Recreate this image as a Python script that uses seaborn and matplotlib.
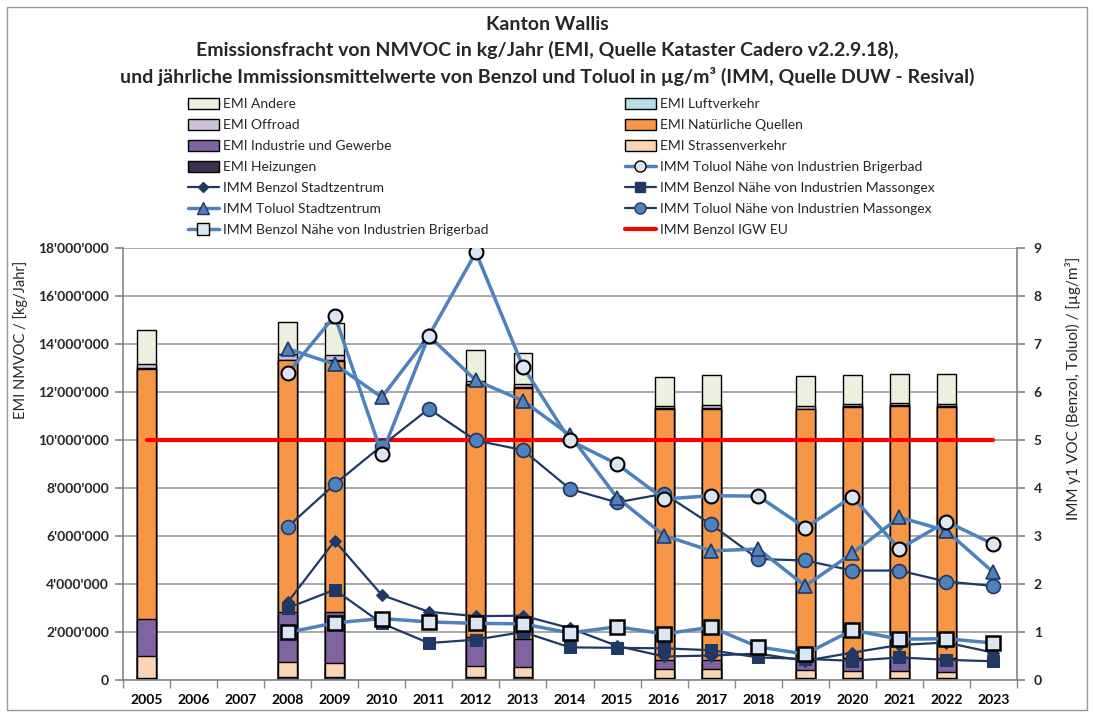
import numpy as np
import pandas as pd
import matplotlib
matplotlib.use("Agg")
import matplotlib.pyplot as plt
import seaborn as sns
from matplotlib.patches import Patch, Rectangle
from matplotlib.lines import Line2D
from matplotlib.ticker import FuncFormatter, FixedLocator

# --- data ---------------------------------------------------------------
years = list(range(2005, 2024))
bar_years = [2005, 2008, 2009, 2012, 2013, 2016, 2017, 2019, 2020, 2021, 2022]

# emission loads in kg/year, one list per source (same order as bar_years)
emi_heizungen = [100000, 110000, 110000, 110000, 110000, 100000, 100000, 100000, 100000, 100000, 100000]
emi_strassen = [880000, 650000, 610000, 460000, 430000, 360000, 360000, 320000, 280000, 260000, 250000]
emi_industrie = [1550000, 2090000, 2110000, 1230000, 1170000, 370000, 370000, 430000, 540000, 580000, 570000]
emi_natuerlich = [10430000, 10480000, 10470000, 10500000, 10460000, 10460000, 10470000, 10430000, 10460000, 10490000, 10470000]
emi_luftverkehr = [20000, 20000, 20000, 20000, 20000, 30000, 20000, 20000, 20000, 20000, 20000]
emi_offroad = [200000, 220000, 220000, 130000, 160000, 100000, 150000, 130000, 110000, 100000, 100000]
emi_andere = [1400000, 1360000, 1330000, 1290000, 1280000, 1210000, 1230000, 1250000, 1190000, 1210000, 1230000]

# immission yearly means in ug/m3, 2008..2023
imm_years = list(range(2008, 2024))
benzol_stadt = [1.62, 2.90, 1.77, 1.42, 1.33, 1.34, 1.08, 0.71, 0.49, 0.51, 0.55, 0.40, 0.57, 0.73, 0.78, 0.57]
toluol_stadt = [6.90, 6.58, 5.89, 7.17, 6.24, 5.82, 5.10, 3.80, 3.01, 2.69, 2.73, 1.96, 2.64, 3.39, 3.11, 2.24]
benzol_brig = [0.99, 1.19, 1.28, 1.21, 1.18, 1.17, 0.98, 1.11, 0.96, 1.10, 0.69, 0.54, 1.04, 0.85, 0.86, 0.77]
toluol_brig = [6.39, 7.59, 4.71, 7.17, 8.91, 6.53, 4.99, 4.50, 3.77, 3.84, 3.83, 3.17, 3.82, 2.73, 3.30, 2.83]
benzol_mass = [1.50, 1.88, 1.18, 0.77, 0.84, 1.00, 0.68, 0.67, 0.66, 0.62, 0.47, 0.44, 0.40, 0.47, 0.42, 0.39]
toluol_mass = [3.19, 4.08, 4.88, 5.65, 4.99, 4.79, 3.98, 3.70, 3.88, 3.24, 2.52, 2.49, 2.28, 2.28, 2.05, 1.96]
igw_eu = 5

# --- style --------------------------------------------------------------
sns.set_theme(style="white")
plt.rcParams['font.family'] = ['Lato', 'DejaVu Sans']

c_andere = '#EBF1DE'
c_luft = '#B7DEE8'
c_offroad = '#CCC1DA'
c_natur = '#F79646'
c_indus = '#8064A2'
c_strasse = '#FCD5B5'
c_heiz = '#3F3151'
c_light = '#4F81BD'
c_dark = '#1F3864'
c_fill = '#DCE6F2'

fig = plt.figure(figsize=(10.94, 7.15), dpi=100)
ax = fig.add_axes([123 / 1094, 35 / 715, 894 / 1094, 432 / 715])
ax2 = ax.twinx()

# stacked bars: draw cumulative totals from the top layer down
layers = [emi_heizungen, emi_strassen, emi_industrie, emi_natuerlich,
          emi_luftverkehr, emi_offroad, emi_andere]
layer_colors = [c_heiz, c_strasse, c_indus, c_natur, c_luft, c_offroad, c_andere]
cum = np.cumsum(np.array(layers), axis=0)
year_order = [str(y) for y in years]
for i in range(len(layers) - 1, -1, -1):
    df = pd.DataFrame({'year': [str(y) for y in bar_years], 'val': cum[i]})
    sns.barplot(data=df, x='year', y='val', order=year_order, color=layer_colors[i],
                saturation=1, width=0.4, edgecolor='black', linewidth=1,
                errorbar=None, ax=ax, zorder=2)

ax.set_ylim(0, 18000000)
ax.set_yticks(np.arange(0, 18000001, 2000000))
ax.yaxis.set_major_formatter(FuncFormatter(lambda v, p: f"{int(v):,}".replace(",", "'")))
ax.grid(axis='y', color='#999999', linewidth=1.2, zorder=0)
ax.set_axisbelow(True)
ax.set_xlabel('')
ax.set_ylabel('')

# lines on secondary axis
xpos = [years.index(y) for y in imm_years]
sns.lineplot(x=[0, 18], y=[igw_eu, igw_eu], color='#FF0000', linewidth=3, ax=ax2)
sns.lineplot(x=xpos, y=toluol_mass, color=c_dark, linewidth=1.6, marker='o', markersize=10,
             markerfacecolor=c_light, markeredgecolor=c_dark, markeredgewidth=1.2, ax=ax2)
sns.lineplot(x=xpos, y=benzol_mass, color=c_dark, linewidth=1.6, marker='s', markersize=9,
             markerfacecolor=c_dark, markeredgecolor=c_dark, ax=ax2)
sns.lineplot(x=xpos, y=benzol_stadt, color=c_dark, linewidth=1.6, marker='D', markersize=6,
             markerfacecolor=c_dark, markeredgecolor=c_dark, ax=ax2)
sns.lineplot(x=xpos, y=benzol_brig, color=c_light, linewidth=2.5, marker='s', markersize=10,
             markerfacecolor=c_fill, markeredgecolor='black', markeredgewidth=1.8, ax=ax2)
sns.lineplot(x=xpos, y=toluol_stadt, color=c_light, linewidth=2.5, marker='^', markersize=10,
             markerfacecolor=c_light, markeredgecolor=c_dark, markeredgewidth=1.2, ax=ax2)
sns.lineplot(x=xpos, y=toluol_brig, color=c_light, linewidth=2.5, marker='o', markersize=10,
             markerfacecolor=c_fill, markeredgecolor='black', markeredgewidth=1.5, ax=ax2)

ax2.set_ylim(0, 9)
ax2.set_yticks(range(0, 10))
ax2.set_xlim(-0.5, 18.5)
ax.set_xlim(-0.5, 18.5)

# axes styling
for a in (ax, ax2):
    a.spines['top'].set_visible(False)
    a.spines['left'].set_color('#888888')
    a.spines['right'].set_color('#888888')
    a.spines['bottom'].set_color('#888888')
ax.spines['right'].set_visible(False)
ax2.spines['left'].set_visible(False)
ax2.spines['bottom'].set_visible(False)

ax.set_xticks(range(len(years)))
ax.set_xticklabels([str(y) for y in years], fontsize=10, fontweight='bold')
ax.xaxis.set_minor_locator(FixedLocator(np.arange(-0.5, 18.6, 1)))
ax.tick_params(axis='x', which='major', length=0, pad=10, colors='black')
ax.tick_params(axis='x', which='minor', length=6, color='#888888', direction='out', bottom=True)
ax.tick_params(axis='y', length=6, color='#888888', direction='out', left=True, labelsize=10, pad=4)
ax2.tick_params(axis='y', length=6, color='#888888', direction='out', right=True, labelsize=10, pad=6)
for lab in ax.get_yticklabels() + ax2.get_yticklabels():
    lab.set_fontweight('bold')
ax2.set_ylabel('')
ax2.set_xlabel('')

# titles and axis labels
fig.text(0.5, 1 - 25 / 715, 'Kanton Wallis', ha='center', va='center', fontsize=14, fontweight='bold')
fig.text(0.5, 1 - 50 / 715, 'Emissionsfracht von NMVOC in kg/Jahr (EMI, Quelle Kataster Cadero v2.2.9.18),',
         ha='center', va='center', fontsize=14, fontweight='bold')
fig.text(0.5, 1 - 76 / 715,
         'und jährliche Immissionsmittelwerte von Benzol und Toluol in µg/m³ (IMM, Quelle DUW - Resival)',
         ha='center', va='center', fontsize=14, fontweight='bold')
fig.text(21 / 1094, 1 - 340 / 715, 'EMI NMVOC / [kg/Jahr]', rotation=90, ha='center', va='center',
         fontsize=10.5)
fig.text(1073 / 1094, 1 - 388 / 715, 'IMM y1 VOC (Benzol, Toluol) / [µg/m³]', rotation=90,
         ha='center', va='center', fontsize=11)

# legend (two columns, Excel row order)
def bar_handle(c):
    return Patch(facecolor=c, edgecolor='black', linewidth=1)

def line_handle(lc, lw, m, ms, mfc, mec):
    return Line2D([], [], color=lc, linewidth=lw, marker=m, markersize=ms,
                  markerfacecolor=mfc, markeredgecolor=mec)

col1 = [
    (bar_handle(c_andere), 'EMI Andere'),
    (bar_handle(c_offroad), 'EMI Offroad'),
    (bar_handle(c_indus), 'EMI Industrie und Gewerbe'),
    (bar_handle(c_heiz), 'EMI Heizungen'),
    (line_handle(c_dark, 1.6, 'D', 5, c_dark, c_dark), 'IMM Benzol Stadtzentrum'),
    (line_handle(c_light, 2.5, '^', 8, c_light, c_dark), 'IMM Toluol Stadtzentrum'),
    (line_handle(c_light, 2.5, 's', 8, c_fill, 'black'), 'IMM Benzol Nähe von Industrien Brigerbad'),
]
col2 = [
    (bar_handle(c_luft), 'EMI Luftverkehr'),
    (bar_handle(c_natur), 'EMI Natürliche Quellen'),
    (bar_handle(c_strasse), 'EMI Strassenverkehr'),
    (line_handle(c_light, 2.5, 'o', 8, c_fill, 'black'), 'IMM Toluol Nähe von Industrien Brigerbad'),
    (line_handle(c_dark, 1.6, 's', 7, c_dark, c_dark), 'IMM Benzol Nähe von Industrien Massongex'),
    (line_handle(c_dark, 1.6, 'o', 8, c_light, c_dark), 'IMM Toluol Nähe von Industrien Massongex'),
    (line_handle('#FF0000', 3, None, 0, None, None), 'IMM Benzol IGW EU'),
]
for col, x0 in [(col1, 188), (col2, 625)]:
    fig.legend([h for h, _ in col], [l for _, l in col], loc='upper left',
               bbox_to_anchor=(x0 / 1094, 1 - 98 / 715), frameon=False, fontsize=10,
               handlelength=2.2, handleheight=0.8, handletextpad=0.3, labelspacing=0.64,
               borderpad=0, borderaxespad=0)

fig.patches.append(Rectangle((7 / 1094, 5 / 715), 1080 / 1094, 703 / 715, transform=fig.transFigure,
                             fill=False, edgecolor='#999999', linewidth=1))

fig.savefig('out.png', dpi=100)
